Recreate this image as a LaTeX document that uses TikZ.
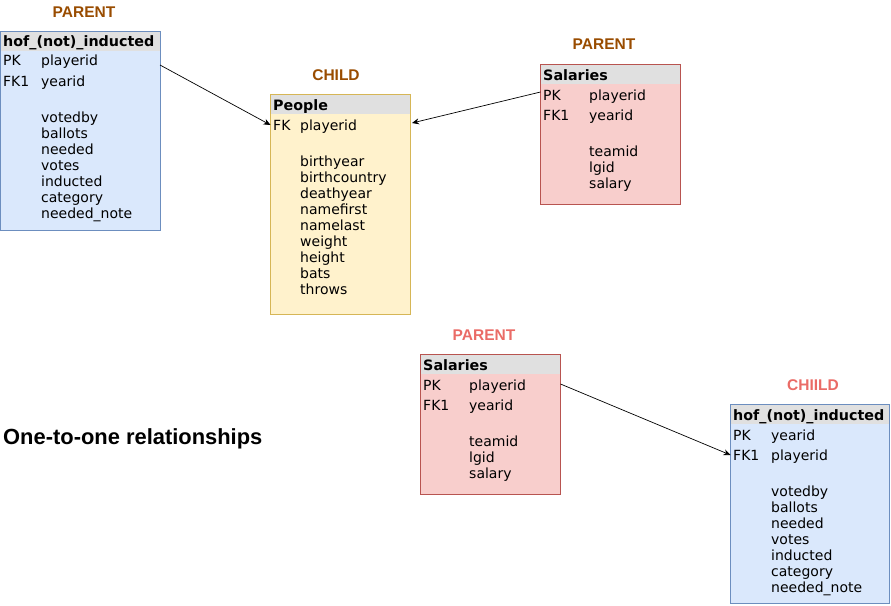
\documentclass[tikz,border=0pt]{standalone}
\usepackage{fontspec}
\setmainfont{DejaVu Sans}
\newfontfamily\titlefont{Liberation Sans}
\usetikzlibrary{arrows.meta}
\definecolor{blueFill}{HTML}{DAE8FC}
\definecolor{blueLine}{HTML}{6C8EBF}
\definecolor{yelFill}{HTML}{FFF2CC}
\definecolor{yelLine}{HTML}{D6B656}
\definecolor{redFill}{HTML}{F8CECC}
\definecolor{redLine}{HTML}{B85450}
\definecolor{hdrFill}{HTML}{E0E0E0}
\definecolor{brownT}{HTML}{994C00}
\definecolor{pinkT}{HTML}{EA6B66}
\tikzset{
  fld/.style={anchor=base west, inner sep=0pt, font=\fontsize{14}{16}\selectfont},
  hdr/.style={anchor=base west, inner sep=0pt, font=\fontsize{14.3}{16}\selectfont\bfseries},
  ttl/.style={inner sep=0pt, font=\titlefont\fontsize{15.5}{18}\selectfont\bfseries},
  entity/.style={line width=0.8pt, inner sep=0pt, outer sep=0pt, anchor=north west,
    path picture={\fill[hdrFill] (path picture bounding box.north west) rectangle ([yshift=-19.5pt]path picture bounding box.north east);}},
  conn/.style={draw=black, line width=0.7pt, -{Stealth[length=7pt,width=6pt]}},
}
\begin{document}
\begin{tikzpicture}[x=1pt,y=-1pt]
\useasboundingbox (0,0) rectangle (891,605);
% ---------- hof (top left) ----------
\node[ttl, text=brownT] (t1) at (84,12) {PARENT};
\node[entity, draw=blueLine, fill=blueFill, minimum width=159.5pt, minimum height=199pt] (hofA) at (0.5,31) {};
\node[hdr] (hofAh) at (3,46) {hof\_(not)\_inducted};
\node[fld] at (3,65) {PK};  \node[fld] at (41,65) {playerid};
\node[fld] at (3,86) {FK1}; \node[fld] at (41,86) {yearid};
\foreach \t [count=\i from 0] in {votedby,ballots,needed,votes,inducted,category,needed\_note}
  \node[fld] at (41,{122+16*\i}) {\t};
% ---------- People ----------
\node[ttl, text=brownT] (t2) at (336,75) {CHILD};
\node[entity, draw=yelLine, fill=yelFill, minimum width=140pt, minimum height=220pt] (ppl) at (270.5,94.5) {};
\node[hdr] at (273,110) {People};
\node[fld] at (273,130) {FK}; \node[fld] at (300,130) {playerid};
\foreach \t [count=\i from 0] in {birthyear,birthcountry,deathyear,namefirst,namelast,weight,height,bats,throws}
  \node[fld] at (300,{166+16*\i}) {\t};
% ---------- Salaries (top right) ----------
\node[ttl, text=brownT] (t3) at (604,44) {PARENT};
\node[entity, draw=redLine, fill=redFill, minimum width=140pt, minimum height=140pt] (salA) at (540.5,64.5) {};
\node[hdr] at (543,80) {Salaries};
\node[fld] at (543,100) {PK};  \node[fld] at (589,100) {playerid};
\node[fld] at (543,120) {FK1}; \node[fld] at (589,120) {yearid};
\foreach \t [count=\i from 0] in {teamid,lgid,salary}
  \node[fld] at (589,{156+16*\i}) {\t};
% ---------- Salaries (bottom) ----------
\node[ttl, text=pinkT] (t4) at (484,335) {PARENT};
\node[entity, draw=redLine, fill=redFill, minimum width=140pt, minimum height=140pt] (salB) at (420.5,354.5) {};
\node[hdr] at (423,370) {Salaries};
\node[fld] at (423,390) {PK};  \node[fld] at (469,390) {playerid};
\node[fld] at (423,410) {FK1}; \node[fld] at (469,410) {yearid};
\foreach \t [count=\i from 0] in {teamid,lgid,salary}
  \node[fld] at (469,{446+16*\i}) {\t};
% ---------- hof (bottom right) ----------
\node[ttl, text=pinkT] (t5) at (813,385) {CHIILD};
\node[entity, draw=blueLine, fill=blueFill, minimum width=159pt, minimum height=199pt] (hofB) at (730.5,404.5) {};
\node[hdr] at (733,420) {hof\_(not)\_inducted};
\node[fld] at (733,440) {PK};  \node[fld] at (771,440) {yearid};
\node[fld] at (733,460) {FK1}; \node[fld] at (771,460) {playerid};
\foreach \t [count=\i from 0] in {votedby,ballots,needed,votes,inducted,category,needed\_note}
  \node[fld] at (771,{496+16*\i}) {\t};
% ---------- caption ----------
\node[inner sep=0pt, anchor=west, font=\titlefont\fontsize{21.9}{24}\selectfont\bfseries] (cap) at (3,439) {One-to-one relationships};
% ---------- connectors ----------
\coordinate (a1s) at (hofA.north east |- 0,65);
\coordinate (a1e) at (ppl.north west |- 0,125);
\coordinate (a2s) at (salA.north west |- 0,92);
\coordinate (a2e) at (412,123);
\coordinate (a3s) at (salB.north east |- 0,384);
\coordinate (a3e) at (hofB.north west |- 0,455);
\draw[conn] (a1s) -- (a1e);
\draw[conn] (a2s) -- (a2e);
\draw[conn] (a3s) -- (a3e);
\end{tikzpicture}
\end{document}
